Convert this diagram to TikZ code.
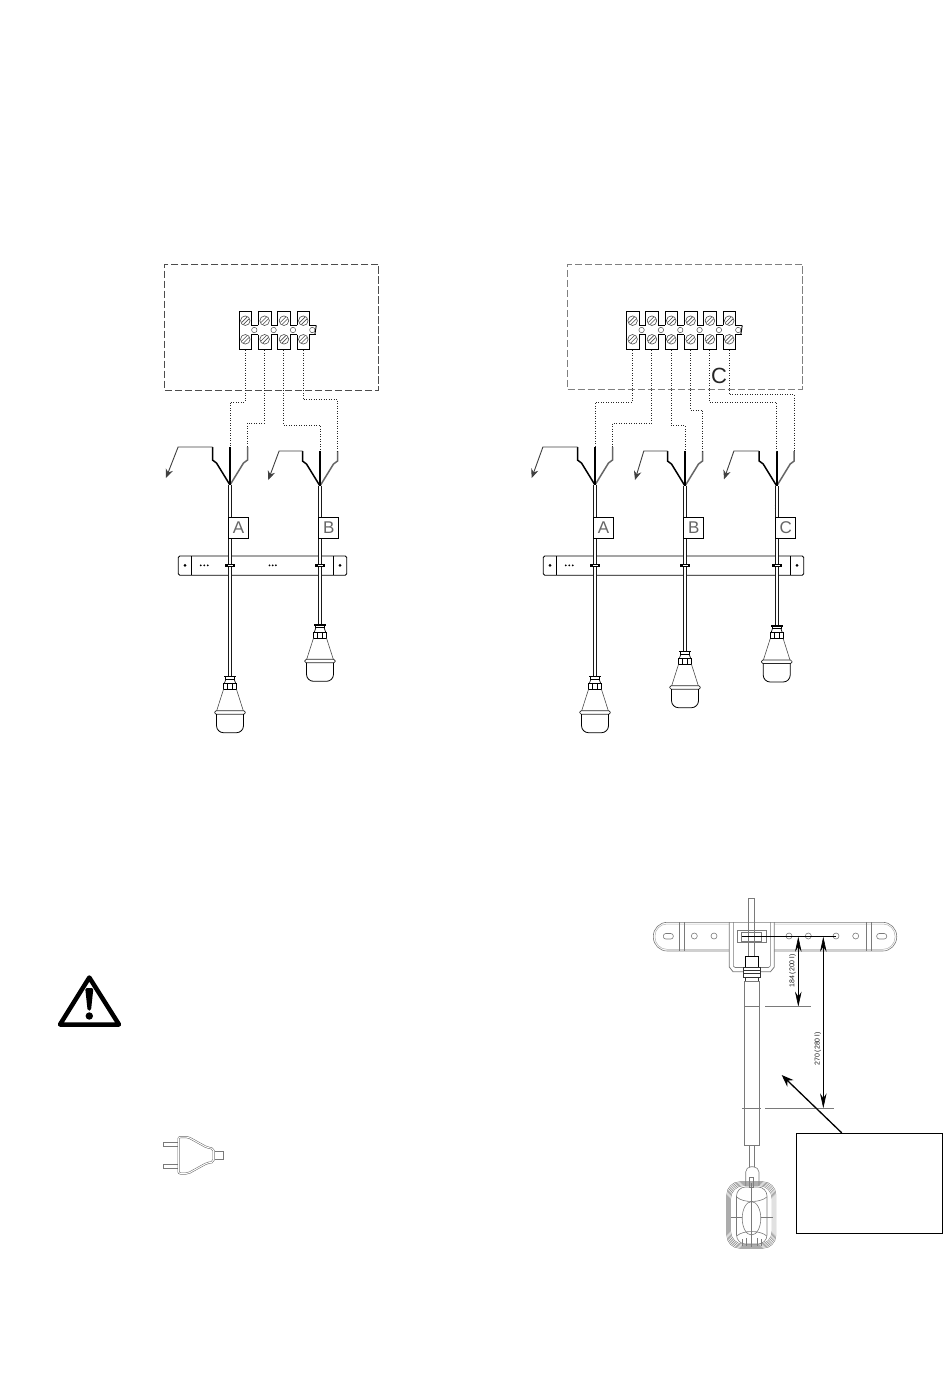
\documentclass[tikz,border=0pt]{standalone}
\usepackage{fontspec}
\setmainfont{Liberation Sans}
\usetikzlibrary{arrows.meta}
\usetikzlibrary{shapes,positioning}
\tikzset{>={Stealth[length=9pt,width=7.5pt]}}
\colorlet{thinline}{black!52}
\tikzset{
  wirestyle/.style={black!85,line width=.9pt,dash pattern=on 1pt off 1.5pt},
  panelbox/.style={draw,line width=1pt,dash pattern=on 7.3pt off 2.7pt,inner sep=0pt},
  tagbox/.style={draw=black,line width=.8pt,fill=white,inner sep=0pt,minimum width=20pt,minimum height=21pt,font=\fontsize{17}{17}\selectfont\color{black!60}},
  cablestyle/.style={black!90,line width=.8pt,double=white,double distance=2.2pt},
  leaderline/.style={black!75,line width=.9pt,->},
  dimline/.style={black,line width=.6pt,<->,>={Stealth[length=15pt,width=6.5pt]}},
  dimtext/.style={inner sep=0pt,rotate=90,black!90,font=\fontsize{7}{7}\selectfont},
  detail/.style={thinline,line width=.6pt},
  pics/terminal/.style={code={
    \foreach \i [evaluate=\i as \x using 19.33*(\i-1)] in {1,...,#1} {
      \draw[black,line width=.9pt] (\x,14) -- (\x,0) -- (\x+12.7,0) -- (\x+12.7,14) -- (\x+19.33,14);
      \draw[black,line width=.9pt] (\x,23.4) -- (\x,37.7) -- (\x+12.7,37.7) -- (\x+12.7,23.4) -- (\x+19.33,23.4);
      \foreach \y in {9.4,28} {
        \draw[black!70,line width=.6pt] (\x+6.3,\y) circle (4.8);
        \draw[black!70,line width=.6pt] (\x+2.6,\y+1.8) -- (\x+8.2,\y-3.8) (\x+4.4,\y+3.8) -- (\x+10,\y-1.8);
      }
      \draw[black!70,line width=.5pt] (\x+15.3,18.7) circle (2.7);
      \coordinate (-w\i) at (\x+6,39);
    }
    \draw[black,line width=.9pt] (0,14) -- (0,23.4);
    \draw[black,line width=.9pt] ({#1*19.33},14) -- ++(-1.5,9.4);
  }},
  pics/cablefork/.style={code={
    \draw[black,line width=1.5pt] (-17.5,-#1) -- (-17.5,-25) -- (-13.5,-22) -- (0,0);
    \draw[black!60,line width=1.5pt] (17.5,-#1) -- (17.5,-25) -- (13.5,-22) -- (0,0);
    \draw[black,line width=1.6pt] (0,-#1) -- (0,0);
    \draw[black,line width=.5pt] (-1.6,19) -- (1.6,23) (1.6,19) -- (-1.6,23);
    \coordinate (-left) at (-17.5,-#1);
    \coordinate (-mid) at (0,-#1);
    \coordinate (-right) at (17.5,-#1);
    \coordinate (-apex) at (0,0);
  }},
  pics/fixbar/.style={code={
    \draw[black,line width=.8pt,fill=white,rounded corners=1.5pt] (0,0) rectangle (#1,19.3);
    \draw[black,line width=.8pt] (13,0) -- (13,19.3) (#1-13,0) -- (#1-13,19.3);
    \fill (6.7,9.4) circle (1.5) (#1-6.7,9.4) circle (1.5);
  }},
  pics/clampmark/.style={code={
    \fill[black] (-5,-1.7) rectangle (5,1.7);
    \fill[white] (-2.5,-.7) rectangle (2.5,.7);
  }},
  pics/floatbody/.style={code={
    \coordinate (-top) at (0,0);
    \fill[black] (-6,0) rectangle (6,1.7);
    \draw[black,line width=.7pt] (-4.2,1.7) -- (-4.2,3.5) -- (4.2,3.5) -- (4.2,1.7);
    \draw[black,line width=.7pt] (-4.2,3.5) -- (-5.6,7.7) (4.2,3.5) -- (5.6,7.7);
    \draw[black,line width=.9pt] (-6.7,7.7) rectangle (6.7,13.7);
    \draw[black,line width=.6pt] (-2.5,7.7) -- (-2.5,13.7) (2.5,7.7) -- (2.5,13.7);
    \draw[black!70,line width=.6pt] (-6.5,13.7) -- (-13.3,35) (6.5,13.7) -- (13.3,35);
    \draw[black!85,line width=.7pt,rounded corners=1.5pt] (-15.3,35) rectangle (15.3,38.5);
    \draw[black,line width=.8pt,rounded corners=7pt] (-13.5,38.5) -- (-13.5,57) -- (13.5,57) -- (13.5,38.5);
  }}
}
\begin{document}
\begin{tikzpicture}[x=1pt,y=-1pt]
  \useasboundingbox (0,0) rectangle (950,1379);

  % left diagram
  \node[panelbox,draw=black!70,minimum width=213.7pt,minimum height=126pt] (panela) at (271.8,327) {};
  \pic (ta) at (239,311.3) {terminal=4};
  \pic (fa) at (230,485) {cablefork=38};
  \pic (fb) at (320,486) {cablefork=35};
  \draw[wirestyle] (ta-w1) -- ++(0,51.7) -| (fa-mid);
  \draw[wirestyle] (ta-w2) -- ++(0,73) -| (fa-right);
  \draw[wirestyle] (ta-w3) -- ++(0,74.7) -| (fb-mid);
  \draw[wirestyle] (ta-w4) -- ++(0,49.3) -| (fb-right);
  \coordinate (tipa) at (166,478);
  \coordinate (tipb) at (268.3,480);
  \draw[leaderline] (fa-left) -- ++(-34.4,0) -- (tipa);
  \draw[leaderline] (fb-left) -- ++(-23.4,0) -- (tipb);
  \pic at (178.3,556) {fixbar=168.4};
  \foreach \x in {200.8,204.3,207.8,269.5,272.7,275.9} \fill (\x,565.3) circle (1);
  \pic (sa) at (230,675.7) {floatbody};
  \pic (sb) at (320,624.3) {floatbody};
  \draw[cablestyle] (fa-apex) -- (sa-top);
  \draw[cablestyle] (fb-apex) -- (sb-top);
  \pic at (230,565.3) {clampmark};
  \pic at (320.3,565.3) {clampmark};
  \node[tagbox] (taga) at (238.5,527.8) {A};
  \node[tagbox] (tagb) at (328.8,527.8) {B};

  % right diagram
  \node[panelbox,draw=black!50,minimum width=234.6pt,minimum height=125pt] (panelb) at (685,326.5) {};
  \pic (tb) at (626.3,311.3) {terminal=6};
  \pic (fc) at (595,485) {cablefork=38};
  \pic (fd) at (685,486) {cablefork=35};
  \pic (fe) at (776.7,486) {cablefork=35};
  \draw[wirestyle] (tb-w1) -- ++(0,51.7) -| (fc-mid);
  \draw[wirestyle] (tb-w2) -- ++(0,73) -| (fc-right);
  \draw[wirestyle] (tb-w3) -- ++(0,75) -| (fd-mid);
  \draw[wirestyle] (tb-w4) -- ++(0,59.7) -| (fd-right);
  \draw[wirestyle] (tb-w5) -- ++(0,52.3) -| (fe-mid);
  \draw[wirestyle] (tb-w6) -- ++(0,44) -| (fe-right);
  \node[inner sep=0pt,font=\fontsize{22}{22}\selectfont,black!85] (cmark) at (719,376) {C};
  \coordinate (tipc) at (531.7,478);
  \coordinate (tipd) at (635,480);
  \coordinate (tipe) at (724,479.3);
  \draw[leaderline] (fc-left) -- ++(-34.6,0) -- (tipc);
  \draw[leaderline] (fd-left) -- ++(-23.7,0) -- (tipd);
  \draw[leaderline] (fe-left) -- ++(-25.3,0) -- (tipe);
  \pic at (543.3,556) {fixbar=260.4};
  \foreach \x in {565.8,569.3,572.8} \fill (\x,565.3) circle (1);
  \pic (sc) at (595,675.7) {floatbody};
  \pic (sd) at (685,650.7) {floatbody};
  \pic (se) at (776.7,625) {floatbody};
  \draw[cablestyle] (fc-apex) -- (sc-top);
  \draw[cablestyle] (fd-apex) -- (sd-top);
  \draw[cablestyle] (fe-apex) -- (se-top);
  \pic at (595,565.3) {clampmark};
  \pic at (685.3,565.3) {clampmark};
  \pic at (777,565.6) {clampmark};
  \node[tagbox] (tagc) at (603.5,527.8) {A};
  \node[tagbox] (tagd) at (693.8,527.8) {B};
  \node[tagbox] (tage) at (785.7,527.8) {C};

  % warning sign
  \draw[black,line width=4.5pt,line join=round] (89.3,977.5) -- (119,1024.5) -- (60,1024.5) -- cycle;
  \fill[black,rounded corners=1.5pt] (85.2,988) -- (93.4,988) -- (91,1010.5) -- (87.6,1010.5) -- cycle;
  \fill[black] (89.3,1016) circle (3.7);

  % plug
  \draw[thinline,line width=.6pt] (177.7,1142.3) -- (163.3,1142.3) -- (163.3,1146.7) -- (177.7,1146.7)
    (177.7,1164) -- (163.3,1164) -- (163.3,1168.3) -- (177.7,1168.3);
  \draw[black!60,line width=.5pt,double=white,double distance=1pt,rounded corners=2pt] (178.5,1137) -- (188,1137) -- (207,1147.5) -- (213.5,1148.5)
    -- (213.5,1162) -- (207,1163) -- (188,1173.5) -- (178.5,1173.5) -- cycle;
  \draw[thinline,line width=.6pt] (214.5,1151.3) -- (223.3,1151.3) -- (223.3,1159) -- (214.5,1159);

  % mounting detail
  \draw[detail,rounded corners=14pt] (653.3,922.3) rectangle (896.7,951);
  \draw[black!30,line width=.5pt,rounded corners=12pt] (655,924) rectangle (895,949.3);
  \draw[detail] (679.3,922.3) -- (679.3,951) (684,922.3) -- (684,951) (866.7,922.3) -- (866.7,951) (871.3,922.3) -- (871.3,951);
  \foreach \x in {668.3,881.7} \draw[detail,rounded corners=2.5pt] (\x-5,933.5) rectangle (\x+5,939);
  \foreach \x in {694.3,714,789,808.3,836,855.7} \draw[detail] (\x,936) circle (3);
  \fill[white] (729.3,923) rectangle (774.3,971.7);
  \draw[detail,line width=.8pt] (729.3,922) -- (729.3,967) -- (733,971.7) -- (770.5,971.7) -- (774.3,967) -- (774.3,922);
  \draw[detail] (733.3,922) -- (733.3,966) -- (735,967.5) -- (768.5,967.5) -- (770.3,966) -- (770.3,922);
  \draw[detail] (748.3,898.3) rectangle (754.3,956.7);
  \draw[detail,fill=white] (737,930.7) rectangle (766.7,942.7);
  \draw[detail] (741.7,932.5) rectangle (761.7,941);
  \draw[detail] (748.3,930.7) -- (748.3,942.7) (754.3,930.7) -- (754.3,942.7);
  \draw[black,line width=.6pt] (741.7,936.7) -- (836,936.7);
  \draw[black,line width=.9pt,fill=white] (745.3,956.7) rectangle (758.7,967);
  \draw[black!80,line width=.7pt,fill=white] (743.3,967) rectangle (760.7,977);
  \draw[black!80,line width=.6pt] (743.3,970) -- (760.7,970) (743.3,973.5) -- (760.7,973.5);
  \draw[black!80,line width=.7pt,fill=white] (745.3,977) rectangle (758.7,981.7);
  \draw[detail] (744.5,981.7) rectangle (759,1145);
  \draw[detail] (749.3,1145) -- (749.3,1166.7) (754.7,1145) -- (754.7,1166.7);
  \draw[detail,rounded corners=2pt] (745.7,1186) -- (745.7,1170) -- (749,1166.7) -- (755,1166.7) -- (759,1170) -- (759,1186);
  \draw[detail] (749,1177) rectangle (753.5,1187);
  \foreach \d in {0,1,2,3,4} \draw[black!50,line width=.45pt,rounded corners=13pt] (726.7+\d,1181.7+\d) rectangle (776-\d,1248.3-\d);
  \draw[detail,rounded corners=9pt] (736.5,1187) rectangle (767,1244);
  \draw[detail] (751.3,1183) -- (751.3,1247);
  \draw[detail] (751.5,1218.3) ellipse (9.3 and 16.7);
  \draw[detail] (730.7,1217.3) -- (742.2,1217.3) (760.8,1217.3) -- (772.7,1217.3);
  \draw[detail] (736.7,1197) .. controls (743,1203) and (760,1203) .. (766.8,1197);
  \draw[detail] (736.7,1236) .. controls (743,1230) and (760,1230) .. (766.8,1236);
  \draw[detail] (742,1246) -- (742,1239) (746,1246) -- (746,1238) (757,1246) -- (757,1238) (761,1246) -- (761,1239);

  % dimensions
  \coordinate (dima) at (798.3,936.7);
  \coordinate (dimb) at (798.3,1006.7);
  \coordinate (dimc) at (823.3,936.7);
  \coordinate (dimd) at (823.3,1108.3);
  \draw[dimline] (dima) -- (dimb);
  \draw[dimline] (dimc) -- (dimd);
  \draw[detail] (765,1006.7) -- (810.7,1006.7) (744.5,1006.7) -- (759,1006.7);
  \draw[detail] (765,1108.3) -- (834,1108.3) (742.3,1108.3) -- (761,1108.3);
  \node[dimtext] (laba) at (792.5,971) {184 (200 l)};
  \node[dimtext] (labb) at (817.7,1049) {270 (280 l)};

  % empty callout
  \node[draw=black,line width=1pt,fill=white,minimum width=145.6pt,minimum height=100pt,inner sep=0pt] (note) at (869.5,1183.3) {};
  \coordinate (notetip) at (781.7,1075);
  \draw[black,line width=1.3pt,->,>={Stealth[length=12pt,width=9pt]}] (note.north -| 841.7,0) -- (notetip);
\end{tikzpicture}
\end{document}
